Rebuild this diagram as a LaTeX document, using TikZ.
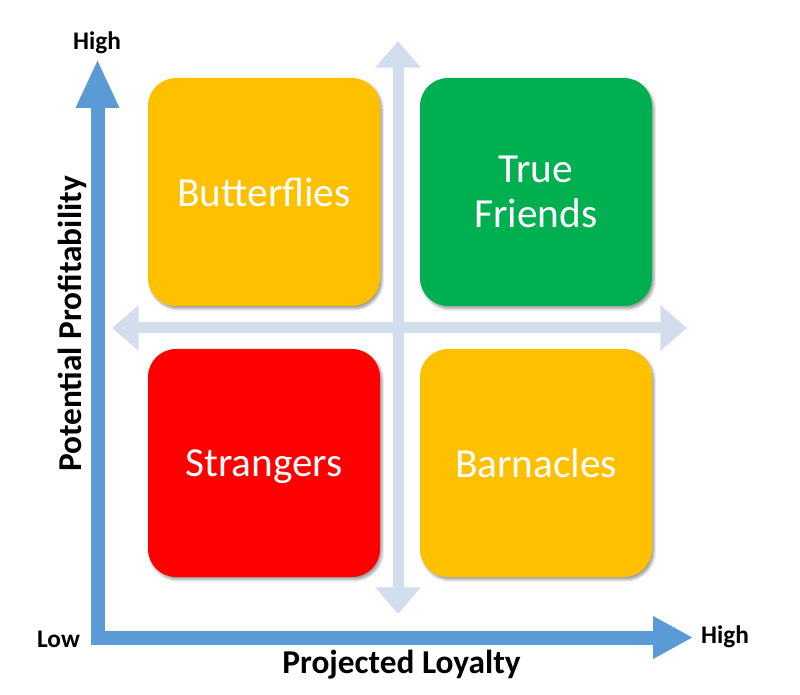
\documentclass[tikz,border=0pt]{standalone}
\usepackage{fontspec}
\setmainfont{Carlito}
\usetikzlibrary{arrows.meta,shadows.blur}
\definecolor{axisblue}{RGB}{91,155,213}
\definecolor{crossblue}{RGB}{210,221,238}
\definecolor{qorange}{RGB}{255,192,0}
\definecolor{qgreen}{RGB}{0,176,80}
\definecolor{qred}{RGB}{255,0,0}
\begin{document}
\begin{tikzpicture}[x=0.75pt,y=-0.75pt,
  quad/.style={rounded corners=21pt, minimum width=174pt, minimum height=171pt,
    text=white, font=\fontsize{31}{34}\selectfont, align=center,
    blur shadow={shadow xshift=1.5pt, shadow yshift=-2pt, shadow blur steps=6, shadow opacity=40, shadow blur radius=2pt}},
  crossarrow/.style={draw=crossblue, line width=8.25pt,
    arrows={-Triangle[length=20pt, width=33pt]}},
  axisline/.style={draw=axisblue, line width=10.5pt, line join=miter},
  axislabel/.style={font=\bfseries\fontsize{25}{30}\selectfont, text=black, inner sep=0pt, anchor=base},
  endlabel/.style={font=\bfseries\fontsize{19}{22}\selectfont, text=black, inner sep=0pt, anchor=base}]
\useasboundingbox (0,0) rectangle (800,695);

% light crosshair
\coordinate (cc) at (398,328);
\coordinate (ctop) at (398,41);
\coordinate (cbot) at (398,614);
\coordinate (cleft) at (112,328);
\coordinate (cright) at (687,328);
\draw[crossarrow] (cc) -- (ctop);
\draw[crossarrow] (cc) -- (cbot);
\draw[crossarrow] (cc) -- (cleft);
\draw[crossarrow] (cc) -- (cright);

% quadrants
\node[quad, fill=qorange] (butterflies) at (264,192) {Butterflies};
\node[quad, fill=qgreen] (friends) at (536,192) {True\\Friends};
\node[quad, fill=qred, text depth=0pt] (strangers) at (264,463) {Strangers};
\node[quad, fill=qorange] (barnacles) at (536,463) {Barnacles};

% main axes
\coordinate (ytip) at (97.5,59);
\coordinate (corner) at (97.5,637.5);
\coordinate (xtip) at (693,637.5);
\draw[axisline, arrows={Triangle[length=36.75pt, width=30pt]-Triangle[length=30pt, width=30pt]}] (ytip) -- (corner) -- (xtip);

% labels
\node[endlabel] (yhigh) at (97,50) {High};
\node[endlabel] (xlow) at (58.5,647) {Low};
\node[endlabel] (xhigh) at (725,643) {High};
\node[axislabel] (xlab) at (401.5,673) {Projected Loyalty};
\node[axislabel, rotate=90] (ylab) at (81,324) {Potential Profitability};
\end{tikzpicture}
\end{document}
